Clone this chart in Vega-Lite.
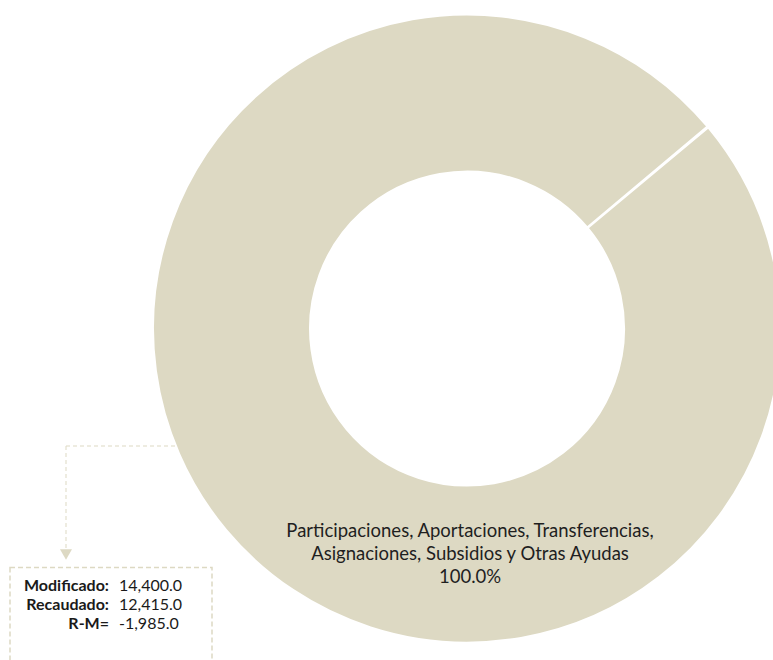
{
  "$schema": "https://vega.github.io/schema/vega-lite/v6.json",
  "width": 773,
  "height": 660,
  "autosize": {"type": "none"},
  "padding": 0,
  "background": "white",
  "config": {
    "view": {"stroke": null},
    "font": "Lato",
    "locale": {"number": {"decimal": ".", "thousands": ",", "grouping": [3], "currency": ["$", ""], "minus": "-"}}
  },
  "resolve": {"scale": {"y": "independent"}},
  "layer": [
    {
      "data": {"values": [
        {"categoria": "Participaciones, Aportaciones, Transferencias, Asignaciones, Subsidios y Otras Ayudas", "porcentaje": 100}
      ]},
      "mark": {"type": "arc", "outerRadius": 314, "innerRadius": 157, "fill": "#DDD9C3", "stroke": "white", "strokeWidth": 2},
      "encoding": {
        "theta": {"field": "porcentaje", "type": "quantitative", "stack": true, "scale": {"domain": [0, 100], "range": [0.876, 7.155]}},
        "x": {"datum": 467, "type": "quantitative", "scale": {"domain": [0, 773], "nice": false, "zero": false}, "axis": null},
        "y": {"datum": 328.5, "type": "quantitative", "scale": {"domain": [0, 660], "nice": false, "zero": false, "reverse": true}, "axis": null}
      }
    },
    {
      "data": {"values": [
        {"etiqueta": ["Participaciones, Aportaciones, Transferencias,", "Asignaciones, Subsidios y Otras Ayudas", "100.0%"]}
      ]},
      "mark": {"type": "text", "font": "Lato", "fontSize": 18.5, "align": "center", "baseline": "middle", "lineHeight": 23, "color": "#1f1f1f"},
      "encoding": {
        "text": {"field": "etiqueta", "type": "nominal"},
        "x": {"datum": 470, "type": "quantitative", "axis": null},
        "y": {"datum": 530.5, "type": "quantitative", "scale": {"domain": [0, 660], "nice": false, "zero": false, "reverse": true}, "axis": null}
      }
    },
    {
      "data": {"values": [{}]},
      "mark": {"type": "rule", "color": "#DDD9C3", "strokeWidth": 1, "strokeDash": [4, 3]},
      "encoding": {
        "x": {"datum": 66, "type": "quantitative", "axis": null},
        "x2": {"datum": 181},
        "y": {"datum": 446, "type": "quantitative", "scale": {"domain": [0, 660], "nice": false, "zero": false, "reverse": true}, "axis": null}
      }
    },
    {
      "data": {"values": [{}]},
      "mark": {"type": "rule", "color": "#DDD9C3", "strokeWidth": 1, "strokeDash": [4, 3]},
      "encoding": {
        "x": {"datum": 66, "type": "quantitative", "axis": null},
        "y": {"datum": 446, "type": "quantitative", "scale": {"domain": [0, 660], "nice": false, "zero": false, "reverse": true}, "axis": null},
        "y2": {"datum": 550}
      }
    },
    {
      "data": {"values": [{}]},
      "mark": {"type": "point", "shape": "triangle-down", "filled": true, "size": 145, "color": "#DDD9C3", "opacity": 1},
      "encoding": {
        "x": {"datum": 66, "type": "quantitative", "axis": null},
        "y": {"datum": 554.5, "type": "quantitative", "scale": {"domain": [0, 660], "nice": false, "zero": false, "reverse": true}, "axis": null}
      }
    },
    {
      "data": {"values": [{}]},
      "mark": {"type": "rect", "filled": false, "fill": null, "stroke": "#DDD9C3", "strokeWidth": 1.5, "strokeDash": [5, 3]},
      "encoding": {
        "x": {"datum": 10, "type": "quantitative", "axis": null},
        "x2": {"datum": 212},
        "y": {"datum": 567.5, "type": "quantitative", "scale": {"domain": [0, 660], "nice": false, "zero": false, "reverse": true}, "axis": null},
        "y2": {"datum": 680}
      }
    },
    {
      "data": {"values": [
        {"concepto": "Modificado:", "monto": 14400.0},
        {"concepto": "Recaudado:", "monto": 12415.0},
        {"concepto": "R-M=", "monto": -1985.0}
      ]},
      "layer": [
        {
          "mark": {"type": "text", "font": "Lato", "fontSize": 16, "fontWeight": "bold", "align": "right", "baseline": "middle", "color": "#1a1a1a"},
          "encoding": {
            "text": {"field": "concepto", "type": "nominal"},
            "x": {"datum": 109, "type": "quantitative", "axis": null},
            "y": {"field": "concepto", "type": "nominal", "sort": null, "scale": {"type": "point", "domain": ["Modificado:", "Recaudado:", "R-M="], "range": [586, 624], "padding": 0}, "axis": null}
          }
        },
        {
          "mark": {"type": "text", "font": "Lato", "fontSize": 16, "align": "left", "baseline": "middle", "color": "#1a1a1a"},
          "encoding": {
            "text": {"field": "monto", "type": "quantitative", "format": ",.1f"},
            "x": {"datum": 119, "type": "quantitative", "axis": null},
            "y": {"field": "concepto", "type": "nominal", "sort": null, "scale": {"type": "point", "domain": ["Modificado:", "Recaudado:", "R-M="], "range": [586, 624], "padding": 0}, "axis": null}
          }
        }
      ]
    }
  ]
}
